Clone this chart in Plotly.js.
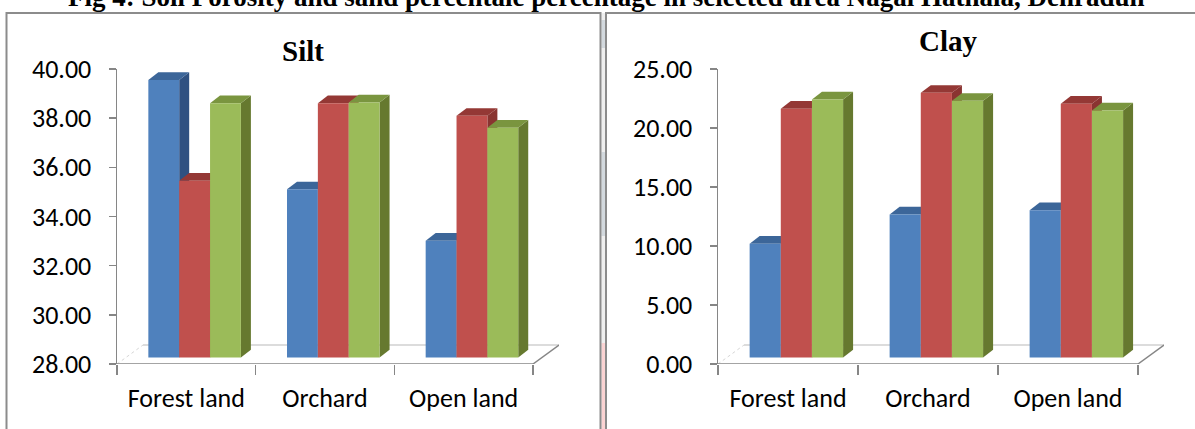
<!DOCTYPE html>
<html>
<head>
<meta charset="utf-8">
<script src="https://cdn.plot.ly/plotly-3.0.1.min.js"></script>
<style>html,body{margin:0;padding:0;background:#fff;}#chart{width:1195px;height:429px;}</style>
</head>
<body>
<div id="chart"></div>
<script>
// ---------- data ----------
const categories = ['Forest land', 'Orchard', 'Open land'];
const seriesNames = ['Series1', 'Series2', 'Series3'];
const siltSeries1 = [39.29, 34.84, 32.75];
const siltSeries2 = [35.19, 38.34, 37.83];
const siltSeries3 = [38.34, 38.37, 37.35];
const claySeries1 = [9.64, 12.12, 12.48];
const claySeries2 = [21.08, 22.43, 21.50];
const claySeries3 = [21.86, 21.75, 20.93];
const siltTicks = [28, 30, 32, 34, 36, 38, 40];
const clayTicks = [0, 5, 10, 15, 20, 25];
const figTitle = 'Fig 4: Soil Porosity and sand percentale percentage in selected area Nagal Hatnala, Dehradun';
const panelTitles = ['Silt', 'Clay'];

// ---------- style ----------
const W = 1195, H = 429;
const frontCol = ['#4F81BD', '#C0504D', '#9BBB59'];
const topCol   = ['#3C6699', '#943835', '#7A953F'];
const sideCol  = ['#2F5181', '#8A3431', '#66792F'];
const barW = 0.2225;
const barOff = [-0.274, -0.0515, 0.171];
const depthPx = {dx: 10, dy: 7.7};      // bar depth
const shiftPx = 6.5;                    // bars stand inside the floor
const floorPx = {dx: 26, dy: 19};       // floor depth
const axisGray = '#868686';
const tickFont = {family: 'Carlito, Lato, "Open Sans", sans-serif', size: 26, color: '#000'};

const panels = [
  {series: [siltSeries1, siltSeries2, siltSeries3], ticks: siltTicks, range: [28, 40],
   xpx: [117, 559], ypx: [364, 69], xa: 'x', ya: 'y'},
  {series: [claySeries1, claySeries2, claySeries3], ticks: clayTicks, range: [0, 25],
   xpx: [718, 1164], ypx: [364, 69], xa: 'x2', ya: 'y2'}
];

const traces = [];
const shapes = [];
const layout = {
  width: W, height: H,
  margin: {l: 0, r: 0, t: 0, b: 0},
  paper_bgcolor: '#fff', plot_bgcolor: 'rgba(0,0,0,0)',
  barmode: 'overlay',
  showlegend: false,
  hovermode: false,
  annotations: [],
  shapes: shapes
};

// panel frames and the strip between them (paper coords)
shapes.push({type: 'rect', xref: 'paper', yref: 'paper', x0: 601.5 / W, x1: 605 / W, y0: 0, y1: 1 - 13 / H,
  fillcolor: '#efefef', line: {width: 0}, layer: 'below'});
shapes.push({type: 'rect', xref: 'paper', yref: 'paper', x0: 601.5 / W, x1: 605 / W, y0: 1 - 48 / H, y1: 1 - 20 / H,
  fillcolor: '#d3d9de', line: {width: 0}, layer: 'below'});
shapes.push({type: 'rect', xref: 'paper', yref: 'paper', x0: 601.5 / W, x1: 605 / W, y0: 1 - 236 / H, y1: 1 - 152 / H,
  fillcolor: '#d3d9de', line: {width: 0}, layer: 'below'});
shapes.push({type: 'rect', xref: 'paper', yref: 'paper', x0: 601.5 / W, x1: 605 / W, y0: 0, y1: 1 - 343 / H,
  fillcolor: '#fbd3d3', line: {width: 0}, layer: 'below'});
shapes.push({type: 'rect', xref: 'paper', yref: 'paper', x0: 6.5 / W, x1: 600.5 / W, y0: -0.05, y1: 1 - 13 / H,
  line: {color: '#8c8c8c', width: 2}, layer: 'below'});
shapes.push({type: 'rect', xref: 'paper', yref: 'paper', x0: 606 / W, x1: 1.05, y0: -0.05, y1: 1 - 13 / H,
  line: {color: '#8c8c8c', width: 2}, layer: 'below'});

panels.forEach((p, k) => {
  const nCat = categories.length;
  const catWidthPx = (p.xpx[1] - p.xpx[0]) / (nCat + 0.1875);
  const fdx = floorPx.dx / catWidthPx;
  const unitPx = (p.ypx[0] - p.ypx[1]) / (p.range[1] - p.range[0]);
  const fdy = floorPx.dy / unitPx;
  const bdx = depthPx.dx / catWidthPx;
  const bdy = depthPx.dy / unitPx;
  const shift = shiftPx / unitPx;
  const yMin = p.range[0];
  const xr = p.xa, yr = p.ya;
  const axKey = k === 0 ? '' : '2';

  layout['xaxis' + axKey] = {
    type: 'category', domain: [p.xpx[0] / W, p.xpx[1] / W], range: [-0.5, nCat - 0.5 + fdx],
    anchor: 'y' + axKey, showline: false, showgrid: false, zeroline: false,
    ticks: 'outside', tickson: 'boundaries', ticklen: 10, tickwidth: 1.5, tickcolor: axisGray,
    tickfont: tickFont, ticklabelstandoff: 16, fixedrange: true
  };
  layout['yaxis' + axKey] = {
    domain: [1 - p.ypx[0] / H, 1 - p.ypx[1] / H], range: p.range, anchor: 'x' + axKey,
    showline: true, linecolor: axisGray, linewidth: 1.5, showgrid: false, zeroline: false,
    ticks: 'outside', ticklen: 7, tickwidth: 1.5, tickcolor: axisGray,
    tickvals: p.ticks, tickformat: '.2f', tickfont: tickFont, ticklabelstandoff: 12, fixedrange: true
  };

  // floor
  shapes.push({type: 'line', xref: xr, yref: yr, x0: -0.5 + fdx, x1: nCat - 0.5 + fdx, y0: yMin + fdy, y1: yMin + fdy,
    line: {color: '#d0d0d0', width: 1.5}, layer: 'between'});
  shapes.push({type: 'line', xref: xr, yref: yr, x0: -0.5, x1: -0.5 + fdx, y0: yMin, y1: yMin + fdy,
    line: {color: '#d6d6d6', width: 1, dash: 'dot'}, layer: 'between'});
  shapes.push({type: 'line', xref: xr, yref: yr, x0: nCat - 0.5, x1: nCat - 0.5 + fdx, y0: yMin, y1: yMin + fdy,
    line: {color: axisGray, width: 1.5}, layer: 'between'});
  shapes.push({type: 'line', xref: xr, yref: yr, x0: -0.5, x1: nCat - 0.5, y0: yMin, y1: yMin,
    line: {color: axisGray, width: 1.5}, layer: 'between'});

  p.series.forEach((vals, i) => {
    traces.push({
      type: 'bar', name: seriesNames[i], x: categories, y: vals.map(v => v - yMin),
      base: vals.map(() => yMin + shift), offset: barOff[i], width: barW,
      marker: {color: frontCol[i], line: {width: 0}},
      xaxis: xr, yaxis: yr, hoverinfo: 'skip'
    });
    vals.forEach((v, j) => {
      const x0 = j + barOff[i], x1 = x0 + barW;
      const yT = v + shift, yB = yMin + shift;
      shapes.push({type: 'path', xref: xr, yref: yr, layer: 'between', line: {width: 0}, fillcolor: sideCol[i],
        path: `M${x1},${yT} L${x1 + bdx},${yT + bdy} L${x1 + bdx},${yB + bdy} L${x1},${yB} Z`});
      shapes.push({type: 'path', xref: xr, yref: yr, layer: 'between', line: {width: 0}, fillcolor: topCol[i],
        path: `M${x0},${yT} L${x1},${yT} L${x1 + bdx},${yT + bdy} L${x0 + bdx},${yT + bdy} Z`});
    });
  });
});

layout.annotations.push({text: '<b>' + figTitle + '</b>', xref: 'paper', yref: 'paper', x: 606 / W, y: 1 - 14 / H,
  xanchor: 'center', yanchor: 'bottom', showarrow: false,
  font: {family: '"Liberation Serif", "Times New Roman", serif', size: 27, color: '#000'}});
layout.annotations.push({text: '<b>' + panelTitles[0] + '</b>', xref: 'paper', yref: 'paper', x: 303 / W, y: 1 - 51 / H,
  xanchor: 'center', yanchor: 'middle', showarrow: false,
  font: {family: '"Liberation Serif", "Times New Roman", serif', size: 29, color: '#000'}});
layout.annotations.push({text: '<b>' + panelTitles[1] + '</b>', xref: 'paper', yref: 'paper', x: 949 / W, y: 1 - 41 / H,
  xanchor: 'center', yanchor: 'middle', showarrow: false,
  font: {family: '"Liberation Serif", "Times New Roman", serif', size: 29, color: '#000'}});

Plotly.newPlot('chart', traces, layout, {staticPlot: true, displayModeBar: false});
</script>
</body>
</html>
